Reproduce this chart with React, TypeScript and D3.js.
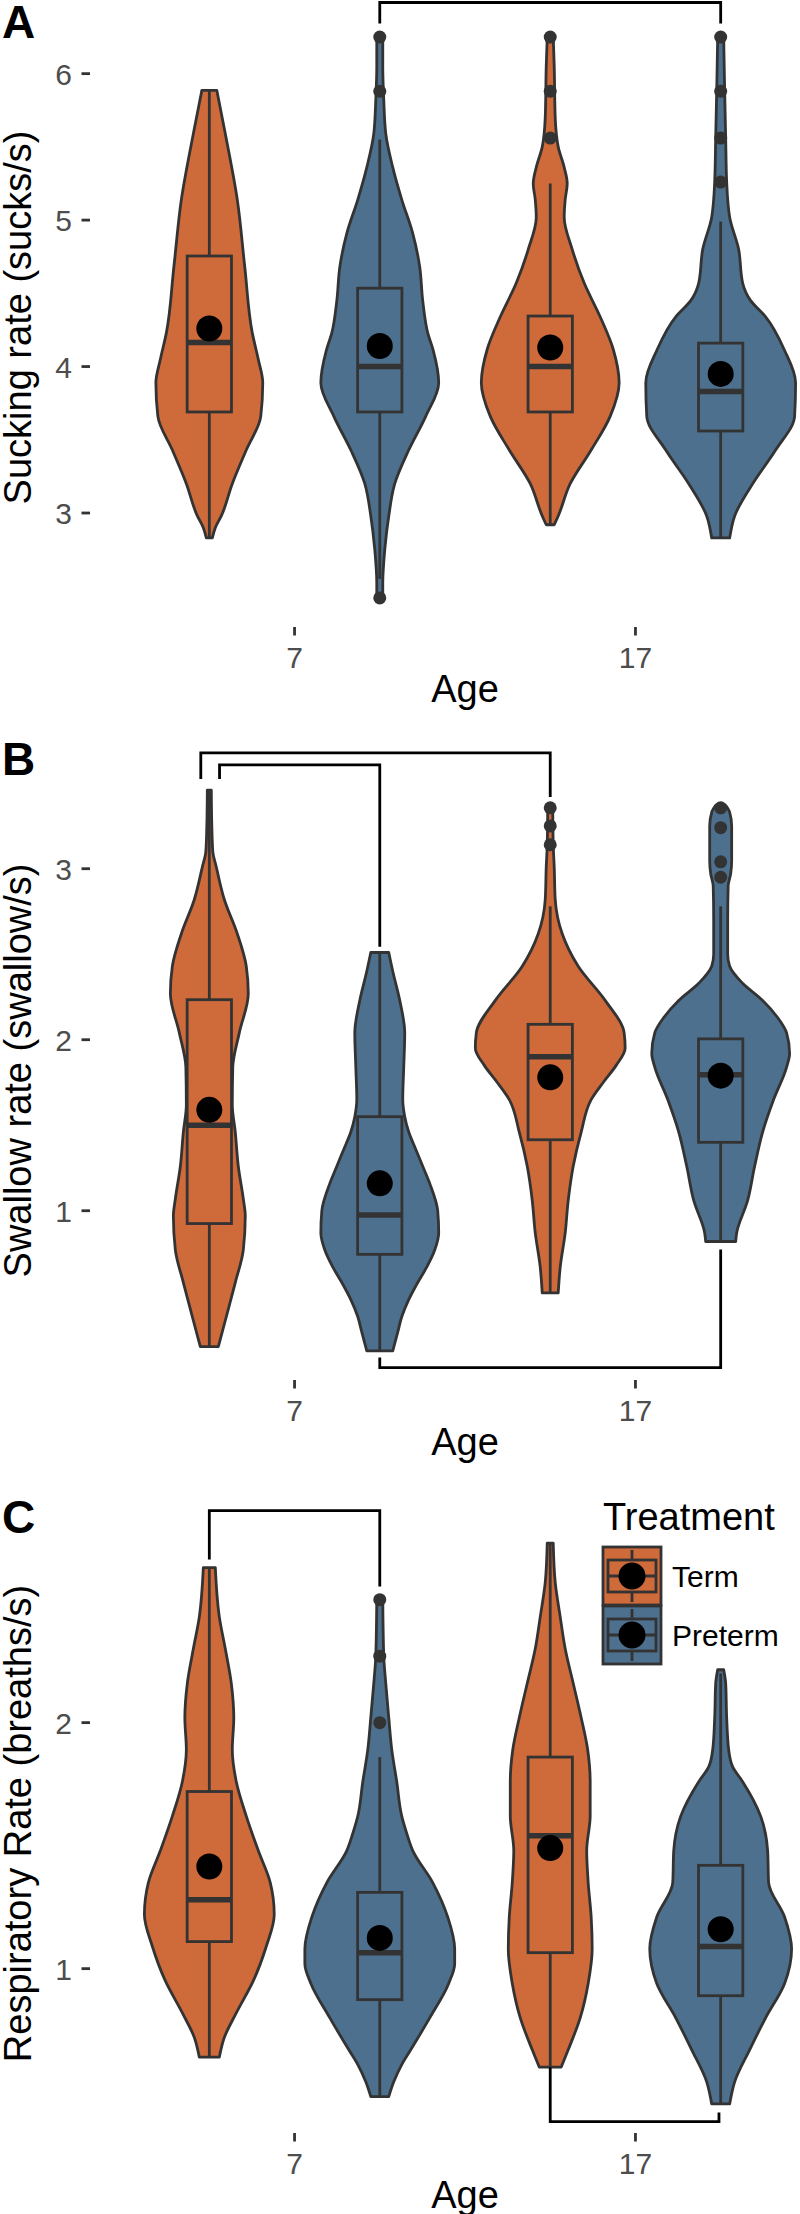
import React from "react";
import * as d3 from "d3";

// ---------------- DATA ----------------
const ages = ["7", "17"];
const treatments = ["Term", "Preterm"];
const treatmentColors = ["#CF6A3A", "#4D708E"];

// density profiles: [value, relative density]
// Panel A – Sucking rate (sucks/s)
const suckTerm7: [number, number][] = [[2.83,.03],[2.90,.06],[2.98,.12],[3.20,.23],[3.43,.37],[3.66,.515],[3.89,.535],[4.05,.49],[4.23,.43],[4.68,.355],[5.14,.28],[5.59,.16],[5.886,.075]];
const suckPre7: [number, number][] = [[2.42,.03],[2.52,.03],[2.75,.05],[2.98,.09],[3.20,.15],[3.43,.29],[3.66,.46],[3.89,.59],[4.11,.535],[4.23,.48],[4.45,.43],[4.68,.40],[4.91,.33],[5.14,.22],[5.36,.13],[5.59,.06],[5.82,.04],[6.05,.03],[6.25,.03]];
const suckTerm17: [number, number][] = [[2.92,.04],[2.98,.08],[3.20,.20],[3.43,.41],[3.66,.60],[3.89,.69],[4.12,.63],[4.34,.50],[4.57,.34],[4.80,.22],[5.02,.14],[5.14,.15],[5.25,.17],[5.36,.14],[5.50,.08],[5.70,.05],[6.05,.04],[6.25,.03]];
const suckPre17: [number, number][] = [[2.83,.09],[2.98,.14],[3.20,.32],[3.43,.55],[3.66,.74],[3.89,.75],[4.11,.64],[4.34,.45],[4.45,.30],[4.57,.22],[4.80,.18],[5.02,.09],[5.26,.06],[5.56,.05],[5.88,.04],[6.25,.03]];
const suckStats = [
  { q1: 3.69, median: 4.164, q3: 4.755, lower: 2.83, upper: 5.886, mean: 4.26, outliers: [] as number[] },
  { q1: 3.69, median: 4.0, q3: 4.535, lower: 2.55, upper: 5.55, mean: 4.14, outliers: [2.42, 5.88, 6.25] },
  { q1: 3.69, median: 4.0, q3: 4.345, lower: 2.92, upper: 5.25, mean: 4.13, outliers: [5.56, 5.88, 6.25] },
  { q1: 3.56, median: 3.83, q3: 4.16, lower: 2.83, upper: 4.99, mean: 3.95, outliers: [5.26, 5.56, 5.88, 6.25] },
];
const suckTicks = [3, 4, 5, 6];
const suckBrackets = [{ from: 1.25, to: 2.25, y: 6.486, tipFrom: 6.343, tipTo: 6.343 }];

// Panel B – Swallow rate (swallow/s)
const swallowTerm7: [number, number][] = [[0.205,.09],[0.38,.17],[0.58,.26],[0.77,.34],[0.97,.36],[1.07,.34],[1.26,.29],[1.46,.26],[1.62,.23],[1.84,.235],[2.04,.30],[2.27,.39],[2.43,.37],[2.62,.28],[2.82,.15],[3.01,.07],[3.10,.035],[3.25,.025],[3.46,.02]];
const swallowPre7: [number, number][] = [[0.18,.13],[0.29,.18],[0.38,.22],[0.48,.29],[0.58,.38],[0.67,.47],[0.77,.55],[0.87,.59],[1.00,.58],[1.16,.50],[1.26,.43],[1.36,.36],[1.46,.29],[1.55,.25],[1.65,.23],[1.84,.24],[2.04,.25],[2.23,.20],[2.40,.13],[2.51,.09]];
const swallowTerm17: [number, number][] = [[0.52,.08],[0.67,.10],[0.87,.15],[1.06,.18],[1.26,.23],[1.46,.31],[1.65,.41],[1.75,.53],[1.85,.66],[1.95,.75],[2.04,.74],[2.23,.55],[2.43,.28],[2.62,.12],[2.82,.05],[3.01,.04],[3.14,.03],[3.36,.025]];
const swallowPre17: [number, number][] = [[0.82,.15],[0.87,.16],[1.06,.27],[1.26,.34],[1.46,.42],[1.65,.53],[1.84,.66],[1.92,.69],[2.04,.66],[2.13,.57],[2.23,.42],[2.33,.22],[2.43,.09],[2.50,.07],[2.70,.07],[2.90,.075],[2.97,.10],[3.05,.11],[3.25,.11],[3.33,.09],[3.37,.05]];
const swallowStats = [
  { q1: 0.925, median: 1.50, q3: 2.234, lower: 0.205, upper: 3.46, mean: 1.59, outliers: [] as number[] },
  { q1: 0.745, median: 0.975, q3: 1.55, lower: 0.18, upper: 2.51, mean: 1.16, outliers: [] as number[] },
  { q1: 1.415, median: 1.90, q3: 2.09, lower: 0.52, upper: 2.78, mean: 1.78, outliers: [3.14, 3.25, 3.356] },
  { q1: 1.40, median: 1.795, q3: 2.005, lower: 0.82, upper: 2.78, mean: 1.79, outliers: [2.95, 3.04, 3.24, 3.356] },
];
const swallowTicks = [1, 2, 3];
const swallowBrackets = [
  { from: 0.725, to: 1.75, y: 3.677, tipFrom: 3.525, tipTo: 3.42 },
  { from: 0.78, to: 1.25, y: 3.607, tipFrom: 3.525, tipTo: 2.544 },
  { from: 1.25, to: 2.25, y: 0.083, tipFrom: 0.141, tipTo: 0.773 },
];

// Panel C – Respiratory Rate (breaths/s)
const respTerm7: [number, number][] = [[0.64,.10],[0.72,.15],[0.82,.27],[0.95,.44],[1.09,.57],[1.22,.65],[1.35,.61],[1.48,.49],[1.62,.37],[1.76,.27],[1.89,.23],[2.02,.245],[2.16,.22],[2.30,.16],[2.43,.10],[2.63,.06]];
const respPre7: [number, number][] = [[0.48,.09],[0.54,.14],[0.61,.22],[0.67,.31],[0.80,.50],[0.94,.69],[1.02,.75],[1.08,.75],[1.21,.68],[1.35,.53],[1.48,.33],[1.55,.27],[1.62,.22],[1.76,.17],[1.89,.12],[2.02,.09],[2.16,.06],[2.27,.04],[2.50,.03]];
const respTerm17: [number, number][] = [[0.60,.11],[0.67,.18],[0.80,.30],[0.94,.38],[1.08,.42],[1.21,.41],[1.35,.38],[1.48,.365],[1.62,.40],[1.76,.40],[1.89,.375],[2.02,.31],[2.16,.23],[2.30,.15],[2.43,.10],[2.57,.05],[2.73,.03]];
const respPre17: [number, number][] = [[0.45,.09],[0.54,.14],[0.67,.29],[0.80,.45],[0.94,.64],[1.08,.71],[1.21,.64],[1.35,.48],[1.48,.47],[1.62,.40],[1.76,.22],[1.82,.12],[1.89,.08],[2.02,.06],[2.16,.05],[2.215,.03]];
const respStats = [
  { q1: 1.11, median: 1.28, q3: 1.72, lower: 0.64, upper: 2.63, mean: 1.415, outliers: [] as number[] },
  { q1: 0.874, median: 1.065, q3: 1.31, lower: 0.48, upper: 1.86, mean: 1.125, outliers: [2.0, 2.27, 2.50] },
  { q1: 1.065, median: 1.54, q3: 1.86, lower: 0.60, upper: 2.73, mean: 1.49, outliers: [] as number[] },
  { q1: 0.89, median: 1.09, q3: 1.42, lower: 0.45, upper: 2.2, mean: 1.16, outliers: [] as number[] },
];
const respTicks = [1, 2];
const respBrackets = [
  { from: 0.75, to: 1.25, y: 2.862, tipFrom: 2.663, tipTo: 2.553 },
  { from: 1.75, to: 2.245, y: 0.378, tipFrom: 0.598, tipTo: 0.415 },
];

// ---------------- LAYOUT ----------------
const FONT = "'Liberation Sans', Arial, sans-serif";
const OUTLINE = "#333333";
const panels = [
  { letter: "A", letterY: 38, title: "Sucking rate (sucks/s)", ticks: suckTicks, brackets: suckBrackets,
    densities: [suckTerm7, suckPre7, suckTerm17, suckPre17], stats: suckStats, legend: false },
  { letter: "B", letterY: 775, title: "Swallow rate (swallow/s)", ticks: swallowTicks, brackets: swallowBrackets,
    densities: [swallowTerm7, swallowPre7, swallowTerm17, swallowPre17], stats: swallowStats, legend: false },
  { letter: "C", letterY: 1533, title: "Respiratory Rate (breaths/s)", ticks: respTicks, brackets: respBrackets,
    densities: [respTerm7, respPre7, respTerm17, respPre17], stats: respStats, legend: true },
];

const PANEL_LEFT = 90;
const PANEL_RIGHT = 840;
const PANEL_TOP0 = 9;
const PANEL_H = 617;
const PANEL_STEP = 753;
const LW = 2.8;

export default function App() {
  const x = d3.scaleLinear().domain([0.4, 2.6]).range([PANEL_LEFT, PANEL_RIGHT]);
  const unit = x(2) - x(1);
  const densityScale = d3.scaleLinear().domain([0, 1]).range([0, 0.293]);
  const boxHalf = 0.065;
  const groups = ages.flatMap((a, ai) => treatments.map((t, ti) => ({ age: a, treat: ti, pos: ai + 1 + (ti === 0 ? -0.25 : 0.25) })));
  const midX = (PANEL_LEFT + PANEL_RIGHT) / 2;

  return (
    <svg width={800} height={2214} style={{ position: "absolute", left: 0, top: 0, display: "block" }} fontFamily={FONT}>
      <rect x={0} y={0} width={800} height={2214} fill="#ffffff" />
      {panels.map((p, pi) => {
        const top = PANEL_TOP0 + PANEL_STEP * pi;
        const bottom = top + PANEL_H;
        const all: number[] = [];
        p.densities.forEach((d) => d.forEach((v) => all.push(v[0])));
        p.stats.forEach((s) => { all.push(s.lower, s.upper, ...s.outliers); });
        const [mn, mx] = d3.extent(all) as [number, number];
        const pad = (mx - mn) * 0.05;
        const y = d3.scaleLinear().domain([mn - pad, mx + pad]).range([bottom, top]);
        const centerY = (top + bottom) / 2;

        return (
          <g key={p.letter}>
            <text x={2} y={p.letterY} fontSize={46} fontWeight="bold" fill="#000">{p.letter}</text>
            {p.ticks.map((t) => (
              <g key={t}>
                <line x1={PANEL_LEFT - 8.5} x2={PANEL_LEFT} y1={y(t)} y2={y(t)} stroke={OUTLINE} strokeWidth={LW} />
                <text x={72} y={y(t) + 11} fontSize={30} textAnchor="end" fill="#4D4D4D">{t}</text>
              </g>
            ))}
            <text transform={`translate(31,${centerY}) rotate(-90)`} textAnchor="middle" fontSize={38} fill="#000">{p.title}</text>
            {ages.map((a, ai) => (
              <g key={a}>
                <line x1={x(ai + 1)} x2={x(ai + 1)} y1={bottom + 1} y2={bottom + 9.5} stroke={OUTLINE} strokeWidth={LW} />
                <text x={x(ai + 1)} y={bottom + 42} fontSize={30} textAnchor="middle" fill="#4D4D4D">{a}</text>
              </g>
            ))}
            <text x={midX} y={bottom + 76} fontSize={38} textAnchor="middle" fill="#000">Age</text>

            {groups.map((g, gi) => {
              const cx = x(g.pos);
              const dens = p.densities[gi];
              const s = p.stats[gi];
              const fill = treatmentColors[g.treat];
              const area = d3.area<[number, number]>()
                .y((d) => y(d[0]))
                .x0((d) => cx - densityScale(d[1]) * unit)
                .x1((d) => cx + densityScale(d[1]) * unit)
                .curve(d3.curveMonotoneY);
              const bx0 = x(g.pos - boxHalf);
              const bx1 = x(g.pos + boxHalf);
              return (
                <g key={gi}>
                  <path d={area(dens) || ""} fill={fill} stroke={OUTLINE} strokeWidth={LW} strokeLinejoin="round" />
                  <line x1={cx} x2={cx} y1={y(s.upper)} y2={y(s.q3)} stroke={OUTLINE} strokeWidth={LW} />
                  <line x1={cx} x2={cx} y1={y(s.q1)} y2={y(s.lower)} stroke={OUTLINE} strokeWidth={LW} />
                  <rect x={bx0} y={y(s.q3)} width={bx1 - bx0} height={y(s.q1) - y(s.q3)} fill={fill} stroke={OUTLINE} strokeWidth={LW} />
                  <line x1={bx0} x2={bx1} y1={y(s.median)} y2={y(s.median)} stroke={OUTLINE} strokeWidth={5.5} />
                  {s.outliers.map((o, oi) => (
                    <circle key={oi} cx={cx} cy={y(o)} r={6.5} fill={OUTLINE} />
                  ))}
                  <circle cx={cx} cy={y(s.mean)} r={13} fill="#000" />
                </g>
              );
            })}

            {p.brackets.map((b, bi) => (
              <path key={bi}
                d={`M${x(b.from)},${y(b.tipFrom)}L${x(b.from)},${y(b.y)}L${x(b.to)},${y(b.y)}L${x(b.to)},${y(b.tipTo)}`}
                fill="none" stroke="#000" strokeWidth={LW} />
            ))}

            {p.legend && (
              <g>
                <text x={603} y={1530} fontSize={38} fill="#000">Treatment</text>
                {treatments.map((t, ti) => {
                  const ky = 1547 + ti * 59;
                  const kx = 603;
                  const ks = 58;
                  const kc = ky + ks / 2;
                  return (
                    <g key={t}>
                      <rect x={kx} y={ky} width={ks} height={ks} fill={treatmentColors[ti]} stroke={OUTLINE} strokeWidth={LW} />
                      <line x1={kx + ks / 2} x2={kx + ks / 2} y1={ky + 3} y2={kc - 16} stroke={OUTLINE} strokeWidth={LW} />
                      <line x1={kx + ks / 2} x2={kx + ks / 2} y1={kc + 16} y2={ky + ks - 3} stroke={OUTLINE} strokeWidth={LW} />
                      <rect x={kx + 5} y={kc - 16} width={ks - 10} height={32} fill={treatmentColors[ti]} stroke={OUTLINE} strokeWidth={LW} />
                      <line x1={kx + 5} x2={kx + ks - 5} y1={kc} y2={kc} stroke={OUTLINE} strokeWidth={LW} />
                      <circle cx={kx + ks / 2} cy={kc} r={13.5} fill="#000" />
                      <text x={672} y={kc + 11} fontSize={30} fill="#000">{t}</text>
                    </g>
                  );
                })}
              </g>
            )}
          </g>
        );
      })}
    </svg>
  );
}
